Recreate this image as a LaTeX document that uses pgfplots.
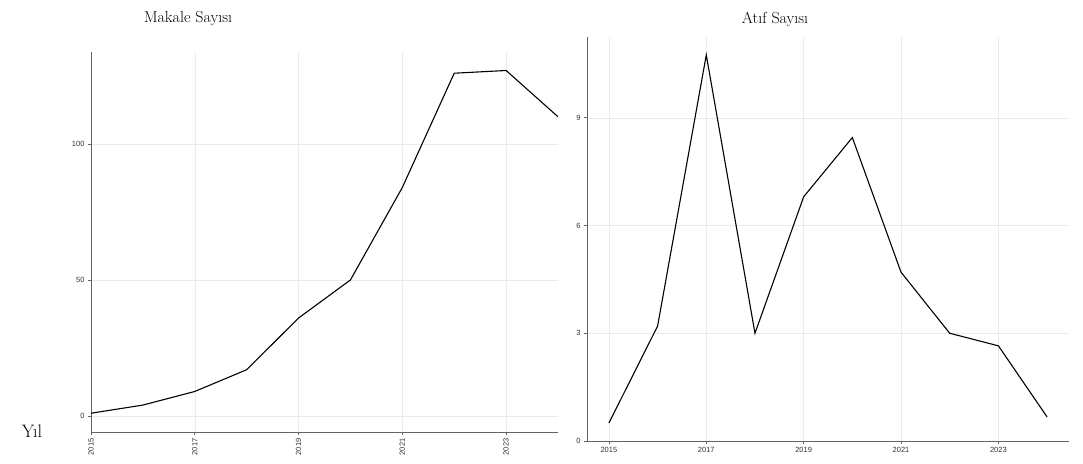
\documentclass[border=0pt]{standalone}
\usepackage{fontspec}
\setsansfont{Liberation Sans}
\usepackage{pgfplots}
\pgfplotsset{compat=1.18}
\definecolor{gridc}{RGB}{235,235,235}
\definecolor{axc}{RGB}{100,100,100}
\pgfplotsset{
  mystyle/.style={
    scale only axis,
    axis lines*=left,
    axis line style={axc, line width=0.9pt},
    tick style={axc, line width=0.6pt},
    tick align=outside,
    major tick length=3pt,
    grid=major,
    major grid style={gridc, line width=0.5pt},
    ticklabel style={font=\sffamily\fontsize{7.5}{8}\selectfont, text=black!80},
    /pgf/number format/assume math mode=true,
    /pgf/number format/1000 sep={},
    xtick={2015,2017,2019,2021,2023},
  }
}
\begin{document}
\begin{tikzpicture}
\path[use as bounding box] (0pt,0pt) rectangle (1083pt,463pt);
% Left panel
\begin{axis}[mystyle,
  at={(91pt,31pt)}, anchor=south west,
  width=467pt, height=380pt,
  xmin=2015, xmax=2024,
  ymin=-5.9, ymax=133.8,
  ytick={0,50,100},
  xticklabel style={rotate=90, anchor=east},
]
\addplot[black, line width=1.1pt, mark=none] coordinates {
(2015,1) (2016,4) (2017,9) (2018,17) (2019,36) (2020,50) (2021,84) (2022,126) (2023,127) (2024,110)
};
\end{axis}
% Right panel
\begin{axis}[mystyle,
  at={(587pt,22pt)}, anchor=south west,
  width=482pt, height=404pt,
  xmin=2014.55, xmax=2024.45,
  ymin=0, ymax=11.25,
  ytick={0,3,6,9},
]
\addplot[black, line width=1.1pt, mark=none] coordinates {
(2015,0.5) (2016,3.2) (2017,10.75) (2018,3.0) (2019,6.8) (2020,8.45) (2021,4.7) (2022,3.0) (2023,2.65) (2024,0.67)
};
\end{axis}
\node[font=\fontsize{16}{18}\selectfont] at (188pt,444pt) {Makale Sayısı};
\node[font=\fontsize{16}{18}\selectfont] at (775pt,444pt) {Atıf Sayısı};
\node[font=\fontsize{18}{20}\selectfont] at (32pt,32pt) {Yıl};
\end{tikzpicture}
\end{document}
